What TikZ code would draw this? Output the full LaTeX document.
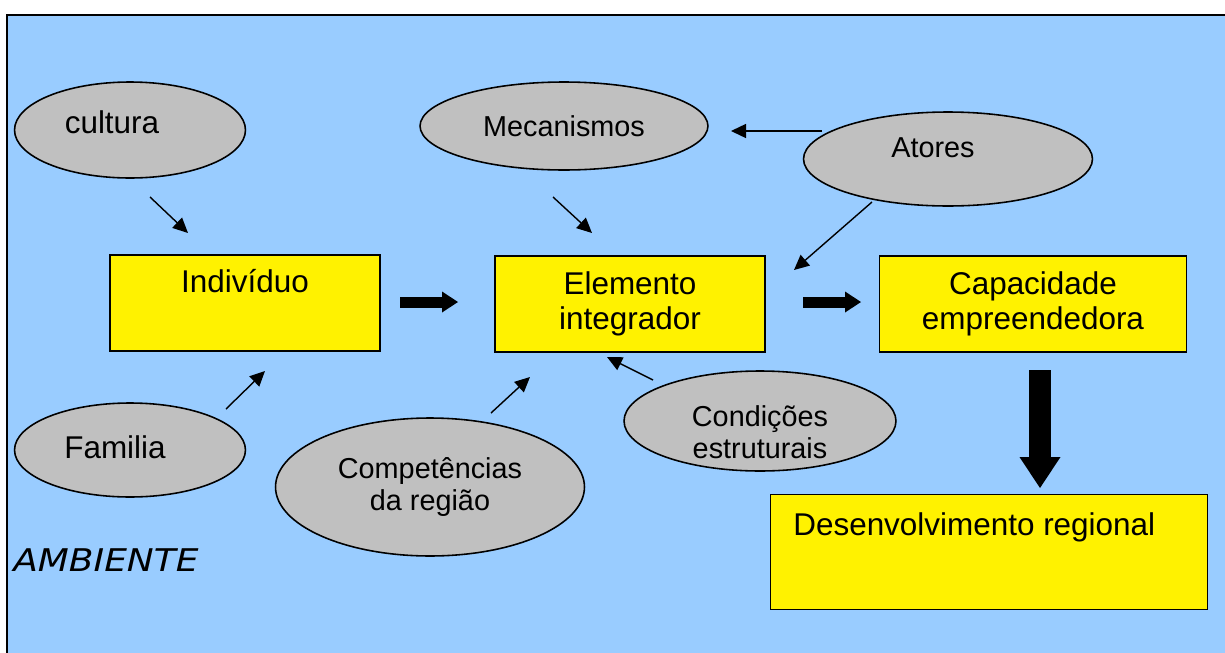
\documentclass[tikz,border=0pt]{standalone}
\usepackage{graphicx}
\usepackage{fontspec}
\setmainfont{Liberation Sans}
\newfontfamily\ambfont{DejaVu Sans}
\usetikzlibrary{arrows.meta}
\usetikzlibrary{shapes.geometric}
\definecolor{fundo}{HTML}{99CCFF}
\definecolor{cinza}{HTML}{C0C0C0}

\begin{document}
\begin{tikzpicture}[x=0.02cm,y=-0.02cm,
    >={Triangle[length=0.3cm,width=0.28cm]},
    oval/.style={ellipse,draw,fill=cinza,line width=0.9pt,inner sep=0pt,align=center},
    caixa/.style={rectangle,draw,fill=yellow,line width=0.9pt,inner sep=0pt,align=center},
    grande/.style={font=\fontsize{17.9}{19.8}\selectfont},
    pequena/.style={font=\fontsize{16.4}{18.4}\selectfont},
    fina/.style={->,line width=0.8pt},
    bloco/.style={line width=0.22cm,-{Triangle[length=0.32cm,width=0.42cm,line width=0pt]}}]
    \useasboundingbox (0,0) rectangle (1225,653);
    \fill[fundo] (7,15) rectangle (1235,660);
    \draw[line width=1.1pt] (7,660) -- (7,15) -- (1235,15);
    % caixas
    \node[caixa,minimum width=5.4cm,minimum height=1.92cm] (ind) at (245,303) {};
    \node[grande,anchor=base] (indt) at (245,292) {Indivíduo};
    \node[caixa,grande,minimum width=5.4cm,minimum height=1.92cm] (elem) at (630,304) {Elemento\\integrador};
    \node[caixa,grande,minimum width=6.14cm,minimum height=1.92cm] (cap) at (1033,304) {Capacidade\\empreendedora};
    \node[caixa,minimum width=8.74cm,minimum height=2.3cm] (des) at (989,552) {};
    \node[grande,anchor=base west,inner sep=0pt] (dest) at (793,535) {Desenvolvimento regional};
    % elipses
    \node[oval,minimum width=4.62cm,minimum height=1.92cm] (cult) at (130,130) {};
    \node[grande,anchor=base] (cultt) at (112,133) {cultura};
    \node[oval,pequena,minimum width=5.76cm,minimum height=1.76cm] (mec) at (564,126) {Mecanismos};
    \node[oval,minimum width=5.78cm,minimum height=1.88cm] (ator) at (948,159) {};
    \node[pequena,anchor=base] (atort) at (933,157) {Atores};
    \node[oval,minimum width=4.62cm,minimum height=1.88cm] (fam) at (130,450) {};
    \node[grande,anchor=base] (famt) at (115,458) {Familia};
    \node[oval,pequena,minimum width=6.18cm,minimum height=2.76cm] (comp) at (430,487) {Competências\\da região};
    \node[oval,minimum width=5.44cm,minimum height=2.0cm] (cond) at (760,421) {};
    \node[pequena,align=center] (condt) at (760,432) {Condições\\estruturais};
    \node[anchor=base west,inner sep=0pt,font=\ambfont\itshape\fontsize{17.8}{20}\selectfont] (amb) at (13,571) {\scalebox{1.15}[1]{AMBIENTE}};
    % setas finas
    \coordinate (cu1) at (150,197); \coordinate (cu2) at (188,233);
    \coordinate (fa1) at (226,409); \coordinate (fa2) at (265,371);
    \coordinate (me1) at (553,197); \coordinate (me2) at (592,233);
    \coordinate (co1) at (491,413); \coordinate (co2) at (530,377);
    \coordinate (cd1) at (653,380); \coordinate (cd2) at (607,357);
    \coordinate (at1) at (822,131); \coordinate (at2) at (731,131);
    \coordinate (at3) at (872,202); \coordinate (at4) at (794,270);
    \draw[fina] (cu1) -- (cu2);
    \draw[fina] (fa1) -- (fa2);
    \draw[fina] (me1) -- (me2);
    \draw[fina] (co1) -- (co2);
    \draw[fina] (cd1) -- (cd2);
    \draw[fina] (at1) -- (at2);
    \draw[fina] (at3) -- (at4);
    % setas grossas
    \coordinate (bl1) at (400,302); \coordinate (bl2) at (458,302);
    \coordinate (bl3) at (803,302); \coordinate (bl4) at (861,302);
    \coordinate (bl5) at (1040,370); \coordinate (bl6) at (1040,488);
    \draw[bloco] (bl1) -- (bl2);
    \draw[bloco] (bl3) -- (bl4);
    \draw[line width=0.44cm,-{Triangle[length=0.62cm,width=0.82cm,line width=0pt]}] (bl5) -- (bl6);
\end{tikzpicture}
\end{document}
